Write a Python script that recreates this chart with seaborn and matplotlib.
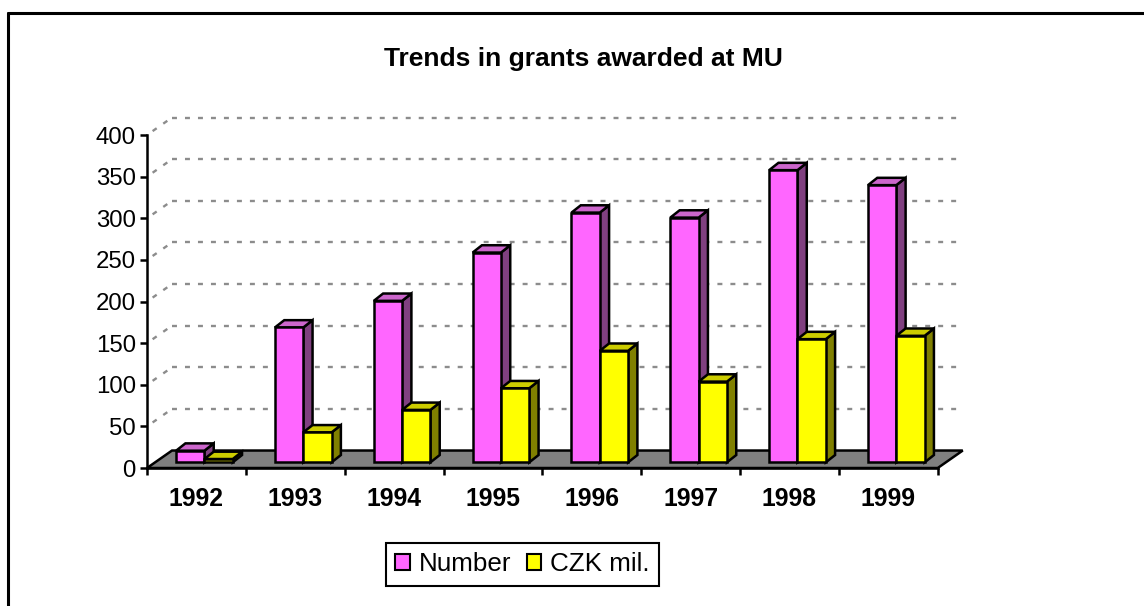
import numpy as np
import pandas as pd
import matplotlib
matplotlib.use('Agg')
import matplotlib.pyplot as plt
import seaborn as sns
from matplotlib.patches import Polygon, Patch
from matplotlib.lines import Line2D

# data
years = ['1992', '1993', '1994', '1995', '1996', '1997', '1998', '1999']
number = [14, 162, 194, 252, 300, 294, 351, 333]
czk_mil = [4, 36, 63, 89, 134, 97, 148, 152]
series_names = ['Number', 'CZK mil.']
y_ticks = list(range(0, 401, 50))

df = pd.DataFrame({
    'year': years * 2,
    'value': number + czk_mil,
    'series': [series_names[0]] * len(years) + [series_names[1]] * len(years),
})

front_col = {'Number': '#FF66FF', 'CZK mil.': '#FFFF00'}
top_col = {'Number': '#CC66CC', 'CZK mil.': '#CCCC00'}
side_col = {'Number': '#804080', 'CZK mil.': '#808000'}

# fake 3d offsets (data units)
FX, FY = 0.253, 21.0     # floor depth
SX, SY = 0.081, 6.8      # bars sit a bit back on the floor
DX, DY = 0.094, 8.8      # depth of a bar
LW = 1.8

sns.set_style('white')
plt.rcParams['font.family'] = ['Liberation Sans', 'DejaVu Sans']
plt.rcParams['text.color'] = 'black'

fig = plt.figure(figsize=(11.44, 6.06), dpi=100)
ax = fig.add_axes([0.1285, 0.2277, 0.6912, 0.5495])

sns.barplot(data=df, x='year', y='value', hue='series', palette=front_col,
            width=0.573, gap=0, saturation=1, errorbar=None, legend=False,
            edgecolor='black', linewidth=LW, ax=ax)

ax.set_xlim(-0.5, len(years) - 0.5)
ax.set_ylim(0, 400)

# floor
x_lo, x_hi = -0.5, len(years) - 0.5
floor = Polygon([(x_lo, 0), (x_hi, 0), (x_hi + FX, FY), (x_lo + FX, FY)],
                closed=True, facecolor='#808080', edgecolor='black', lw=LW,
                zorder=2, clip_on=False)
ax.add_patch(floor)

# back wall and side wall gridlines
for v in y_ticks[1:]:
    ax.plot([x_lo + FX, x_hi + FX], [v + FY, v + FY], color='#8c8c8c', lw=1.7,
            linestyle=(0, (2.1, 3.4)), zorder=1, clip_on=False)
    ax.plot([x_lo, x_lo + FX], [v, v + FY], color='#8c8c8c', lw=1.7,
            linestyle=(2.6, (2.1, 3.4)), zorder=1, clip_on=False)

# turn the flat bars into boxes
labels_per_bar = [series_names[0]] * len(years) + [series_names[1]] * len(years)
bars = list(zip(ax.patches[:2 * len(years)], labels_per_bar))
bars.sort(key=lambda b: b[0].get_x())
for i, (p, s) in enumerate(bars):
    x0 = p.get_x() + SX
    w = p.get_width()
    h = p.get_height()
    p.set_x(x0)
    p.set_y(SY)
    z = 5 + i * 0.1
    p.set_zorder(z + 0.05)
    p.set_clip_on(False)
    top = Polygon([(x0, SY + h), (x0 + w, SY + h), (x0 + w + DX, SY + h + DY),
                   (x0 + DX, SY + h + DY)], closed=True, facecolor=top_col[s],
                  edgecolor='black', lw=LW, zorder=z, clip_on=False)
    side = Polygon([(x0 + w, SY), (x0 + w + DX, SY + DY), (x0 + w + DX, SY + h + DY),
                    (x0 + w, SY + h)], closed=True, facecolor=side_col[s],
                   edgecolor='black', lw=LW, zorder=z, clip_on=False)
    ax.add_patch(side)
    ax.add_patch(top)

# axes
for sp in ['top', 'right']:
    ax.spines[sp].set_visible(False)
for sp in ['left', 'bottom']:
    ax.spines[sp].set_color('black')
    ax.spines[sp].set_linewidth(LW)
    ax.spines[sp].set_zorder(3)

ax.set_yticks(y_ticks)
ax.tick_params(axis='y', left=True, length=5, width=LW, pad=3,
               labelsize=17.3, colors='black')
ax.set_xticks(range(len(years)))
ax.set_xticklabels(years, fontweight='bold')
ax.set_xticks(np.arange(len(years) + 1) - 0.5, minor=True)
ax.tick_params(axis='x', which='major', bottom=True, length=0, pad=14,
               labelsize=17.8, colors='black')
ax.tick_params(axis='x', which='minor', bottom=True, length=5, width=LW,
               colors='black')
ax.set_xlabel('')
ax.set_ylabel('')
ax.patch.set_alpha(0)

fig.text(0.5096, 0.902, 'Trends in grants awarded at MU', ha='center', va='center',
         fontsize=19, fontweight='bold', color='black')

handles = [Patch(facecolor=front_col[s], edgecolor='black', lw=1.5) for s in series_names]
leg = fig.legend(handles, series_names, loc='center', bbox_to_anchor=(0.4567, 0.0685),
                 ncol=2, frameon=True, fancybox=False, edgecolor='black',
                 framealpha=1, fontsize=18.7, handlelength=0.55, handleheight=0.55,
                 handletextpad=0.35, columnspacing=0.6, borderpad=0.35,
                 labelcolor='black')
leg.get_frame().set_linewidth(1.5)

# chart border (left and top only show in the crop)
bx, by = 8 / 1144, 1 - 13 / 606
fig.add_artist(Line2D([bx, bx], [0, by], transform=fig.transFigure, color='black', lw=2.2))
fig.add_artist(Line2D([bx, 1], [by, by], transform=fig.transFigure, color='black', lw=2.2))

fig.savefig('out.png', dpi=100, facecolor='white')
